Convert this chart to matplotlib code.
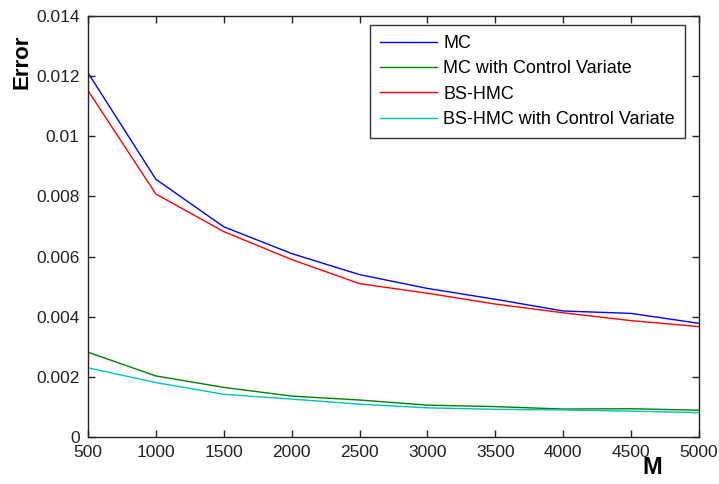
import matplotlib
matplotlib.use("Agg")
import matplotlib.pyplot as plt

M = [500, 1000, 1500, 2000, 2500, 3000, 3500, 4000, 4500, 5000]
mc = [0.01211, 0.00857, 0.00699, 0.00610, 0.00540, 0.00494, 0.00458, 0.00419, 0.00411, 0.00378]
mc_cv = [0.00282, 0.00203, 0.00165, 0.00136, 0.00123, 0.00106, 0.00101, 0.00093, 0.00094, 0.00089]
bs = [0.01152, 0.00808, 0.00683, 0.00590, 0.00510, 0.00478, 0.00442, 0.00413, 0.00387, 0.00367]
bs_cv = [0.00230, 0.00181, 0.00142, 0.00126, 0.00109, 0.00097, 0.00092, 0.00090, 0.00086, 0.00081]
labels = ["MC", "MC with Control Variate", "BS-HMC", "BS-HMC with Control Variate"]
colors = ["#0000ff", "#008000", "#ff0000", "#00bfbf"]
xticks = [500, 1000, 1500, 2000, 2500, 3000, 3500, 4000, 4500, 5000]
yticks = [0, 0.002, 0.004, 0.006, 0.008, 0.01, 0.012, 0.014]
ytick_labels = ["0", "0.002", "0.004", "0.006", "0.008", "0.01", "0.012", "0.014"]

plt.rcParams['font.family'] = ['Liberation Sans', 'DejaVu Sans']

fig = plt.figure(figsize=(7.19, 4.84), dpi=100)
ax = fig.add_axes([88/719, 47/484, 611/719, 421/484])

for y, lab, c in zip([mc, mc_cv, bs, bs_cv], labels, colors):
    ax.plot(M, y, color=c, lw=1.0, label=lab)

ax.set_xlim(500, 5000)
ax.set_ylim(0, 0.014)
ax.set_xticks(xticks)
ax.set_yticks(yticks)
ax.set_yticklabels(ytick_labels)
ax.tick_params(direction='in', length=5, width=1, top=True, right=True,
               labelsize=12.5, colors='#222222', pad=6)
for s in ax.spines.values():
    s.set_color('#222222')
    s.set_linewidth(1)

leg = ax.legend(loc='upper right', bbox_to_anchor=(685/719, 459/484),
                bbox_transform=fig.transFigure, fontsize=13, frameon=True,
                fancybox=False, handlelength=3.15, handletextpad=0.35,
                labelspacing=0.46, borderpad=0.55, borderaxespad=0)
leg.get_frame().set_edgecolor('black')
leg.get_frame().set_linewidth(1)

fig.text(22/719, 1 - 62/484, "Error", rotation=90, fontsize=16, fontweight='bold',
         ha='center', va='center')
fig.text(652/719, 1 - 468/484, "M", fontsize=17, fontweight='bold',
         ha='center', va='center')

fig.savefig("out.png", dpi=100)
